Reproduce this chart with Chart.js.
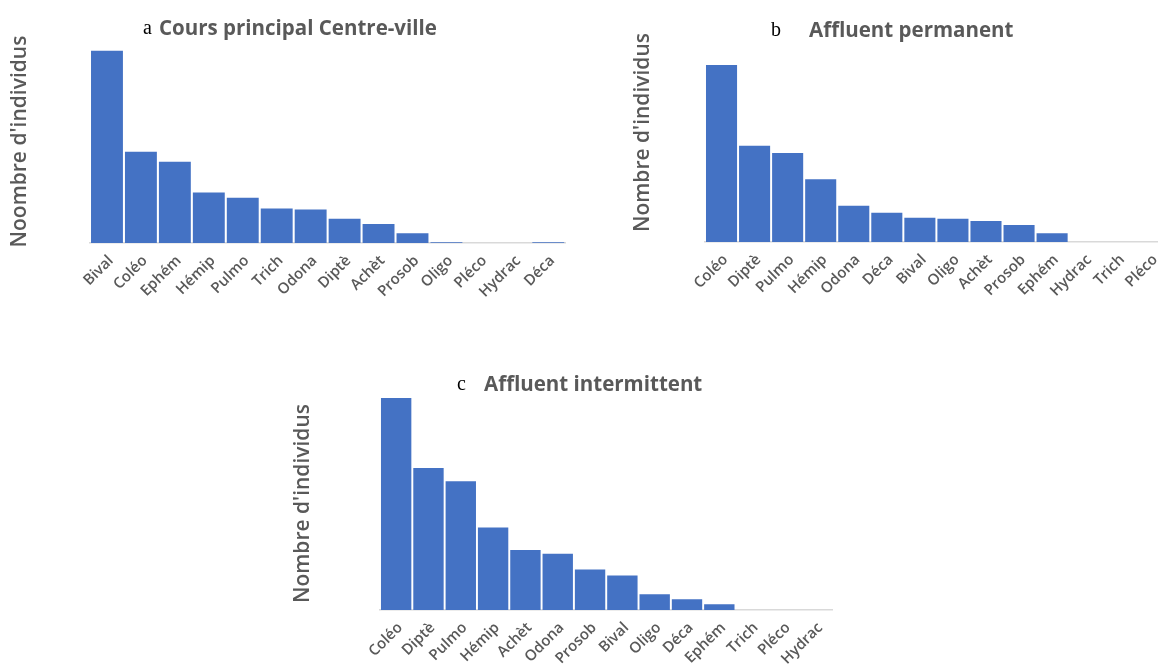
<!DOCTYPE html>
<html>
<head>
<meta charset="utf-8">
<script src="https://cdn.jsdelivr.net/npm/chart.js@4.4.1/dist/chart.umd.min.js"></script>
<style>
  html, body { margin: 0; padding: 0; background: #ffffff; }
  #stage { position: relative; width: 1158px; height: 672px; overflow: hidden; background: #fff; }
  .box { position: absolute; }
  .box canvas { display: block; }
  .ttl { position: absolute; white-space: nowrap; transform: translateY(-50%); line-height: 1; }
  .ltr { font-family: "Liberation Serif", "DejaVu Serif", serif; font-size: 20px; color: #000; }
  .main { font-family: "Open Sans", Lato, sans-serif; font-weight: 700; font-size: 20.5px; color: #595959; }
</style>
</head>
<body>
<div id="stage">
  <div class="box" id="boxA" style="left:0px;top:0px;"><canvas id="cA" width="570" height="330"></canvas></div>
  <div class="box" id="boxB" style="left:605px;top:0px;"><canvas id="cB" width="568" height="330"></canvas></div>
  <div class="box" id="boxC" style="left:280px;top:360px;"><canvas id="cC" width="558" height="312"></canvas></div>

  <span class="ttl ltr" style="left:143px;top:27px;">a</span>
  <span class="ttl main" style="left:159px;top:27px;">Cours principal Centre-ville</span>
  <span class="ttl ltr" style="left:771px;top:29px;">b</span>
  <span class="ttl main" style="left:809px;top:29px;">Affluent permanent</span>
  <span class="ttl ltr" style="left:457px;top:383px;">c</span>
  <span class="ttl main" style="left:484px;top:383px;">Affluent intermittent</span>
</div>
<script>
// ---- Data (relative number of individuals) ----
const catsA = ['Bival','Coléo','Ephém','Hémip','Pulmo','Trich','Odona','Diptè','Achèt','Prosob','Oligo','Pléco','Hydrac','Déca'];
const valsA = [578, 274, 244, 152, 136, 104, 101, 73, 57, 29, 2, 0, 0, 2];

const catsB = ['Coléo','Diptè','Pulmo','Hémip','Odona','Déca','Bival','Oligo','Achèt','Prosob','Ephém','Hydrac','Trich','Pléco'];
const valsB = [531, 289, 267, 188, 109, 88, 73, 70, 63, 51, 26, 0, 0, 0];

const catsC = ['Coléo','Diptè','Pulmo','Hémip','Achèt','Odona','Prosob','Bival','Oligo','Déca','Ephém','Trich','Pléco','Hydrac'];
const valsC = [637, 427, 387, 248, 180, 169, 122, 104, 47, 32, 17, 0, 0, 0];

const yTitleA = "Noombre d'individus";
const yTitleB = "Nombre d'individus";
const yTitleC = "Nombre d'individus";

const BAR = '#4472C4';
const GREY = '#595959';

function makeChart(id, cats, vals, cfg) {
  return new Chart(document.getElementById(id), {
    type: 'bar',
    data: {
      labels: cats,
      datasets: [{
        data: vals,
        backgroundColor: BAR,
        borderWidth: 0,
        categoryPercentage: 1.0,
        barPercentage: 0.94
      }]
    },
    options: {
      responsive: false,
      animation: false,
      devicePixelRatio: 1,
      layout: { padding: { top: cfg.padTop, left: 0, right: 0, bottom: 0 } },
      plugins: { legend: { display: false }, title: { display: false }, tooltip: { enabled: false } },
      scales: {
        x: {
          grid: { display: false, drawTicks: false },
          border: { display: true, color: '#D9D9D9', width: 1.5 },
          ticks: {
            color: GREY,
            font: { family: 'Open Sans', size: 15, weight: '600' },
            minRotation: 45, maxRotation: 45,
            padding: cfg.tickPad,
            labelOffset: 4,
            autoSkip: false
          },
          afterFit: (s) => { s.height = cfg.xH; }
        },
        y: {
          min: 0, max: cfg.max,
          grid: { display: false, drawTicks: false },
          border: { display: false },
          ticks: { display: false },
          title: {
            display: true, text: cfg.yTitle, color: GREY,
            font: { family: 'Open Sans', size: 21, weight: '600' },
            padding: { top: cfg.titlePad, bottom: 0 }
          },
          afterFit: (s) => { s.width = cfg.yW; }
        }
      }
    }
  });
}

makeChart('cA', catsA, valsA, { padTop: 40, max: 610, xH: 87, yW: 90, titlePad: 7, tickPad: 9, yTitle: yTitleA });
makeChart('cB', catsB, valsB, { padTop: 23, max: 657, xH: 88, yW: 100, titlePad: 25, tickPad: 9, yTitle: yTitleB });
makeChart('cC', catsC, valsC, { padTop: 37, max: 640, xH: 62, yW: 100, titlePad: 10, tickPad: 9, yTitle: yTitleC });
</script>
</body>
</html>
